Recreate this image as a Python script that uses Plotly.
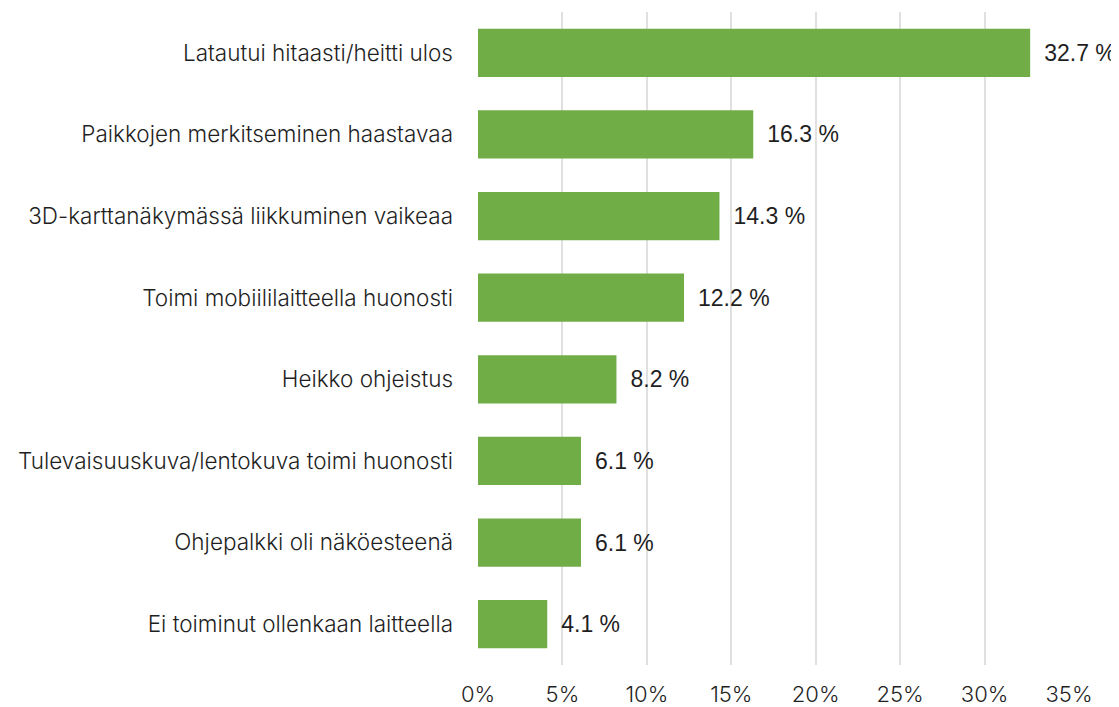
import plotly.graph_objects as go

categories = [
    "Latautui hitaasti/heitti ulos",
    "Paikkojen merkitseminen haastavaa",
    "3D-karttanäkymässä liikkuminen vaikeaa",
    "Toimi mobiililaitteella huonosti",
    "Heikko ohjeistus",
    "Tulevaisuuskuva/lentokuva toimi huonosti",
    "Ohjepalkki oli näköesteenä",
    "Ei toiminut ollenkaan laitteella",
]
values = [32.7, 16.3, 14.3, 12.2, 8.2, 6.1, 6.1, 4.1]
tick_vals = [0, 5, 10, 15, 20, 25, 30, 35]
tick_text = ["0%", "5%", "10%", "15%", "20%", "25%", "30%", "35%"]

FONT = "Inter"
VFONT = "Liberation Sans"
TXT = "#1f1f1f"

# the page adds an 8px body margin, so the figure is drawn 8px smaller
fig = go.Figure(
    go.Bar(
        x=values,
        y=categories,
        orientation="h",
        marker=dict(color="#70AD47", line=dict(width=0)),
        text=[f"\u00a0\u2009{v:.1f} %" for v in values],
        textposition="outside",
        textfont=dict(family=VFONT, size=23, color=TXT),
        cliponaxis=False,
    )
)

fig.update_layout(
    width=1111,
    height=699,
    margin=dict(l=470, r=50, t=4, b=42),
    paper_bgcolor="white",
    plot_bgcolor="white",
    bargap=0.41,
    showlegend=False,
    uniformtext=dict(minsize=23, mode="show"),
    font=dict(family=FONT, size=22, color=TXT),
    xaxis=dict(
        range=[0, 35],
        tickvals=tick_vals,
        ticktext=tick_text,
        showgrid=True,
        gridcolor="#e0e0e0",
        gridwidth=2,
        zeroline=False,
        showline=False,
        automargin=False,
        ticklabelstandoff=14,
        tickfont=dict(family=FONT, size=22, color=TXT, weight=300),
    ),
    yaxis=dict(
        categoryorder="array",
        categoryarray=categories[::-1],
        showgrid=False,
        zeroline=False,
        showline=False,
        automargin=False,
        ticklabelstandoff=24,
        tickfont=dict(family=FONT, size=22.5, color=TXT, weight=300),
    ),
)

fig.write_html("out.html")
